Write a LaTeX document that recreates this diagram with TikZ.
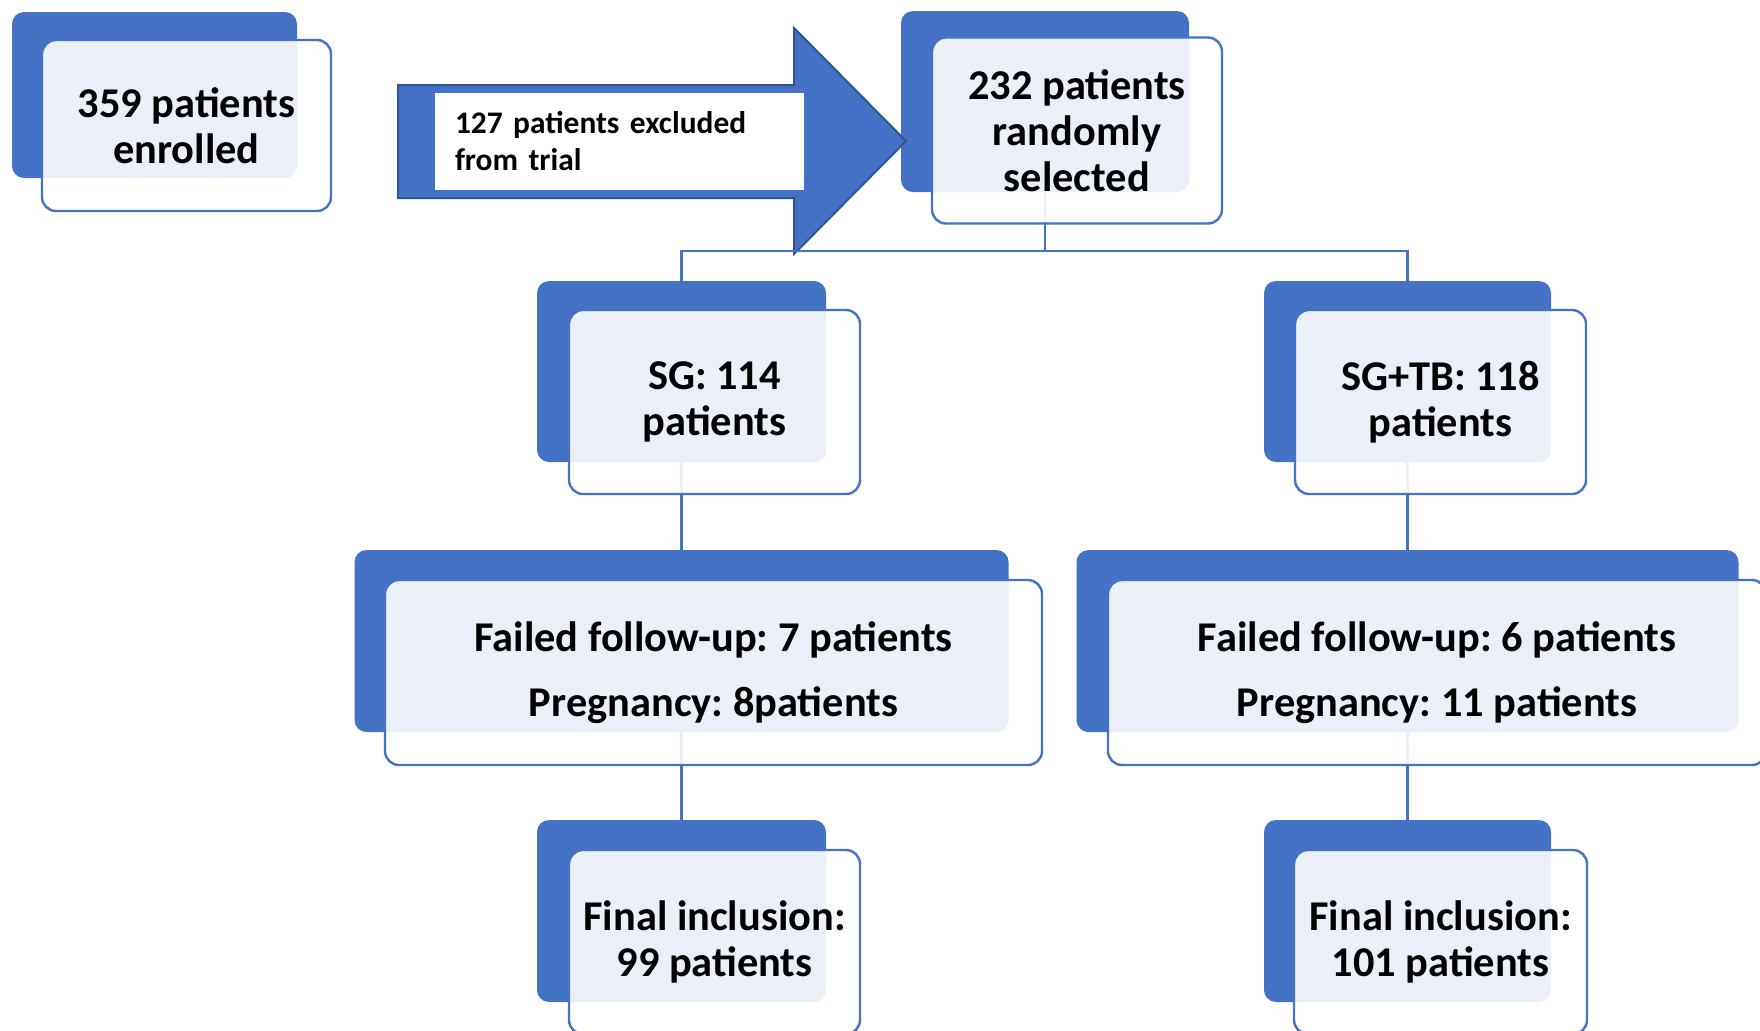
\documentclass[tikz,border=0pt]{standalone}
\usepackage{fontspec}
\setmainfont{Carlito}
\definecolor{blueA}{HTML}{4472C4}
\definecolor{blueEdge}{HTML}{2F5597}
\frenchspacing
\begin{document}
\frenchspacing
\begin{tikzpicture}[x=0.5pt,y=-0.5pt,
  back/.style={fill=blueA, rounded corners=6pt, inner sep=0pt},
  front/.style={draw=blueA, line width=1.2pt, fill=white, fill opacity=0.89, text opacity=1,
    rounded corners=7pt, inner sep=0pt, align=center,
    font=\fontsize{21.2}{23}\selectfont\bfseries},
  twoline/.style={font=\fontsize{21.2}{32.5}\selectfont\bfseries},
  conn/.style={draw=blueA, line width=1.2pt},
  sz/.style 2 args={minimum width=#1, minimum height=#2}
]
\useasboundingbox (0,0) rectangle (1760,1030);

% back boxes
\node[back, sz={142.5pt}{83pt}]   (b359)  at (154.5,95) {};
\node[back, sz={144pt}{90.5pt}]   (brand) at (1045,101.5) {};
\node[back, sz={144.5pt}{90.5pt}] (bsg)   at (681.5,371.5) {};
\node[back, sz={143.5pt}{90.5pt}] (btb)   at (1407.5,371.5) {};
\node[back, sz={327pt}{91pt}]     (bff1)  at (681.5,641) {};
\node[back, sz={331pt}{91pt}]     (bff2)  at (1407.5,641) {};
\node[back, sz={144.5pt}{91pt}]   (bfin1) at (681.5,911) {};
\node[back, sz={143.5pt}{91pt}]   (bfin2) at (1407.5,911) {};

% exclusion arrow
\draw[fill=blueA, draw=blueEdge, line width=1pt, line join=miter]
  (398,85) -- (794,85) -- (794,28) -- (906,141) -- (794,254) -- (794,198) -- (398,198) -- cycle;
\node[fill=white, minimum height=48.5pt, text width=164.5pt, inner xsep=10pt, inner ysep=0pt,
  align=left, font=\fontsize{15.7}{18.5}\selectfont\bfseries] (excl) at (619.5,141.5)
  {127 patients excluded\\from trial};

% connectors
\coordinate (split) at (1045,251);
\draw[conn] (brand.south) -- (split);
\draw[conn] (bsg.north) |- (split) -| (btb.north);
\draw[conn] (bsg.south) -- (bff1.north);
\draw[conn] (btb.south) -- (bff2.north);
\draw[conn] (bff1.south) -- (bfin1.north);
\draw[conn] (bff2.south) -- (bfin2.north);

% front boxes
\node[front, sz={144.5pt}{85.5pt}] (f359)  at (186.5,125.5) {359 patients\\enrolled};
\node[front, sz={145pt}{93pt}]     (frand) at (1077,130.5) {232 patients\\randomly\\selected};
\node[front, sz={145.5pt}{92pt}]   (fsg)   at (714.5,402) {SG: 114\\patients};
\node[front, sz={145.5pt}{92pt}]   (ftb)   at (1440.5,402) {SG+TB: 118\\patients};
\node[front, twoline, sz={328.5pt}{92.5pt}] (fff1) at (713.5,672.5)
  {Failed follow-up: 7 patients\\Pregnancy: 8patients};
\node[front, twoline, sz={329pt}{92.5pt}]   (fff2) at (1437,672.5)
  {Failed follow-up: 6 patients\\Pregnancy: 11 patients};
\node[front, sz={145.5pt}{92pt}]   (ffin1) at (714.5,942) {Final inclusion:\\99 patients};
\node[front, sz={146.5pt}{92pt}]   (ffin2) at (1440.5,942) {Final inclusion:\\101 patients};
\end{tikzpicture}
\end{document}
